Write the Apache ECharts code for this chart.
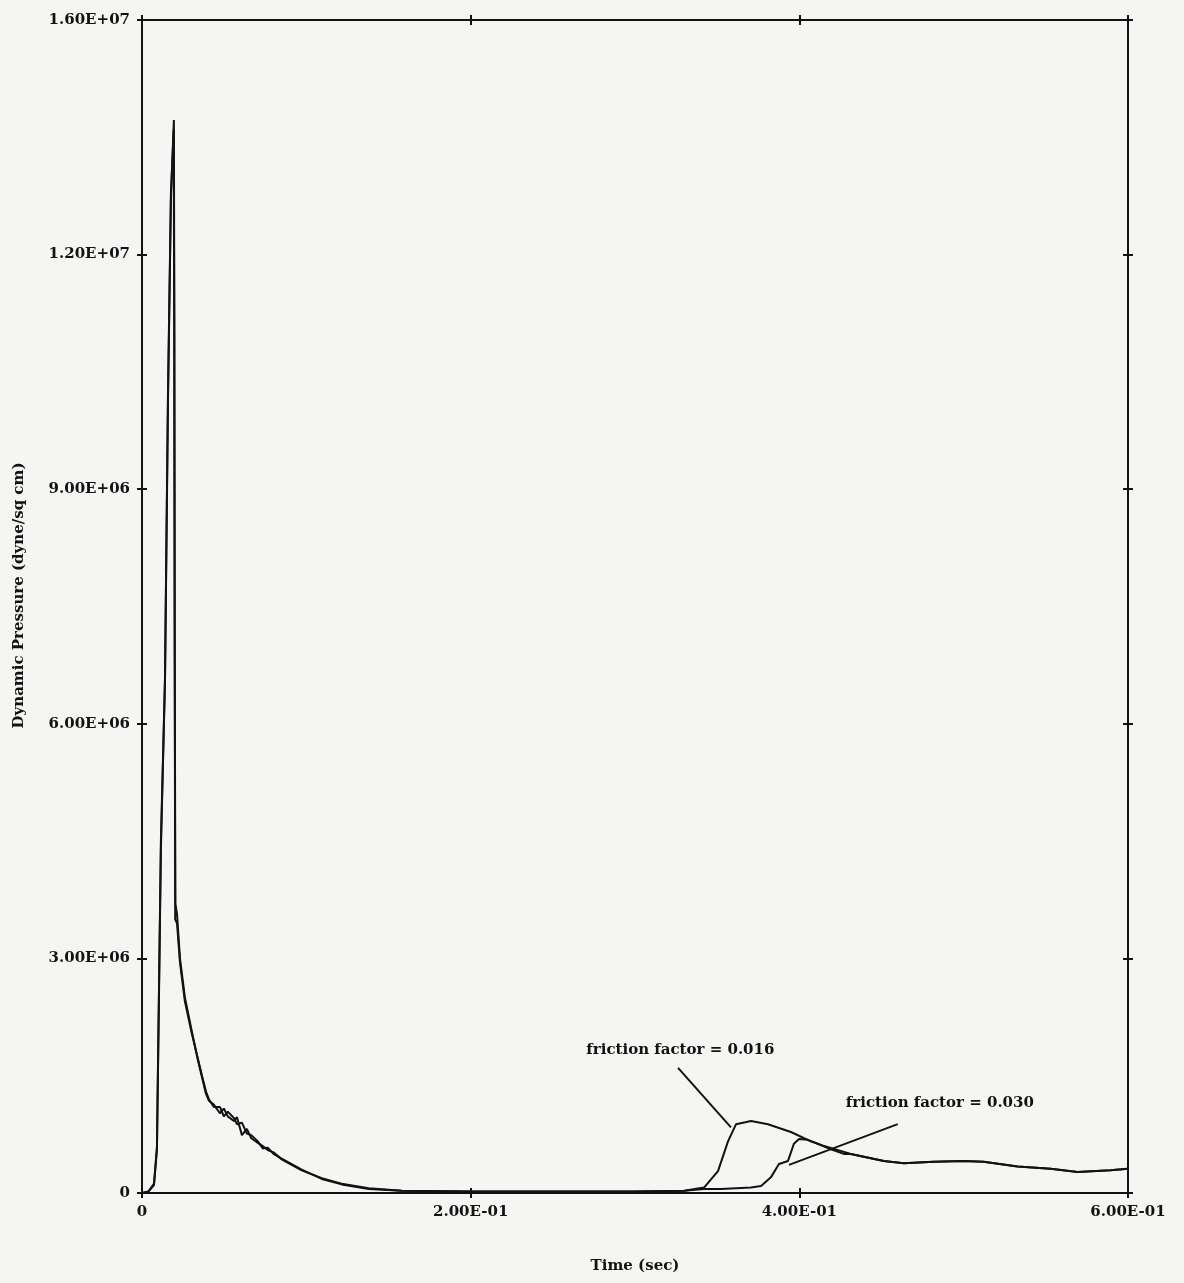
<!DOCTYPE html>
<html><head><meta charset="utf-8">
<script src="https://cdn.jsdelivr.net/npm/echarts/dist/echarts.min.js"></script>
<style>html,body{margin:0;padding:0;background:#f5f5f3;} #c{width:1184px;height:1283px;}</style>
</head><body><div id="c"></div>
<script>
const xTickLabels = ['0', '2.00E-01', '4.00E-01', '6.00E-01'];
const yTickLabels = ['0', '3.00E+06', '6.00E+06', '9.00E+06', '1.20E+07', '1.60E+07'];

const timeFF016 = [0, 0.004, 0.0073, 0.0091, 0.0115, 0.0140, 0.0158, 0.0176, 0.0194, 0.0197, 0.0199, 0.0203,
  0.0213, 0.0231, 0.0261, 0.0304, 0.034, 0.0365, 0.0389, 0.0407, 0.0437, 0.0474, 0.0498, 0.0522, 0.0559, 0.0578,
  0.0608, 0.0638, 0.0665, 0.0705, 0.0735, 0.0765, 0.080, 0.085, 0.0972, 0.1094, 0.1215, 0.138, 0.158, 0.20, 0.25,
  0.30, 0.33, 0.342, 0.3505, 0.3566, 0.3615, 0.3706, 0.3809, 0.3949, 0.407, 0.415, 0.4313, 0.4514, 0.4636, 0.4818,
  0.50, 0.5121, 0.5328, 0.5529, 0.5693, 0.5893, 0.60];
const presFF016 = [0, 0.02e6, 0.1e6, 0.55e6, 4.4e6, 6.55e6, 10.1e6, 12.7e6, 13.72e6, 11.0e6, 7.0e6, 3.7e6,
  3.57e6, 3.0e6, 2.5e6, 2.06e6, 1.7e6, 1.48e6, 1.27e6, 1.18e6, 1.13e6, 1.02e6, 1.08e6, 0.98e6, 0.92e6, 0.97e6,
  0.74e6, 0.82e6, 0.70e6, 0.64e6, 0.60e6, 0.55e6, 0.52e6, 0.43e6, 0.29e6, 0.19e6, 0.12e6, 0.06e6, 0.03e6, 0.02e6, 0.02e6,
  0.02e6, 0.03e6, 0.07e6, 0.28e6, 0.66e6, 0.88e6, 0.92e6, 0.88e6, 0.78e6, 0.66e6, 0.60e6, 0.50e6, 0.41e6, 0.38e6, 0.40e6,
  0.41e6, 0.40e6, 0.34e6, 0.31e6, 0.27e6, 0.29e6, 0.31e6];

const timeFF030 = [0, 0.004, 0.0073, 0.0091, 0.0115, 0.0140, 0.0158, 0.0176, 0.0193, 0.0196, 0.0199, 0.0202,
  0.0213, 0.0231, 0.0261, 0.0304, 0.034, 0.0365, 0.0389, 0.0407, 0.0437, 0.0474, 0.0498, 0.0522, 0.0559, 0.0578,
  0.0608, 0.0638, 0.0665, 0.0705, 0.0735, 0.0765, 0.080, 0.085, 0.0972, 0.1094, 0.1215, 0.138, 0.158, 0.20, 0.25,
  0.30, 0.33, 0.342, 0.3524, 0.3615, 0.3706, 0.3767, 0.3827, 0.3876, 0.3931, 0.3967, 0.3998, 0.4052, 0.4113, 0.4192,
  0.4271, 0.4313, 0.4514, 0.4636, 0.4818, 0.50, 0.5121, 0.5328, 0.5529, 0.5693, 0.5893, 0.60];
const presFF030 = [0, 0.02e6, 0.12e6, 0.6e6, 4.5e6, 6.6e6, 10.2e6, 12.8e6, 13.6e6, 11.2e6, 7.2e6, 3.5e6,
  3.45e6, 2.95e6, 2.45e6, 2.03e6, 1.72e6, 1.50e6, 1.30e6, 1.20e6, 1.10e6, 1.10e6, 0.98e6, 1.04e6, 0.96e6, 0.88e6,
  0.90e6, 0.76e6, 0.74e6, 0.66e6, 0.57e6, 0.58e6, 0.50e6, 0.44e6, 0.30e6, 0.18e6, 0.11e6, 0.05e6, 0.03e6, 0.02e6, 0.02e6,
  0.02e6, 0.03e6, 0.05e6, 0.05e6, 0.06e6, 0.07e6, 0.09e6, 0.20e6, 0.37e6, 0.41e6, 0.63e6, 0.69e6, 0.68e6, 0.63e6, 0.56e6,
  0.50e6, 0.50e6, 0.41e6, 0.38e6, 0.40e6, 0.41e6, 0.40e6, 0.34e6, 0.31e6, 0.27e6, 0.29e6, 0.31e6];

const annotTexts = ['friction factor = 0.016', 'friction factor = 0.030'];
const annotTextAt = [[0.2704, 1.83e6], [0.4283, 1.15e6]];
const leaderFrom = [[0.3262, 1.60e6], [0.4599, 0.88e6]];
const leaderTo = [[0.3584, 0.84e6], [0.3937, 0.36e6]];

const INK = '#121212';
const FONT = 'DejaVu Serif';
const zip = (a, b) => a.map((v, i) => [v, b[i]]);

function xAx(pos, inside, main) {
  return {
    type: 'value', gridIndex: 0, position: pos, min: 0, max: 0.6, interval: 0.2,
    axisLine: { show: true, onZero: false, lineStyle: { color: INK, width: 2 } },
    axisTick: { show: true, inside: inside, length: 5, lineStyle: { color: INK, width: 2 } },
    axisLabel: main ? {
      show: true, margin: 12, color: INK, fontFamily: FONT, fontWeight: 'bold', fontSize: 15,
      formatter: v => xTickLabels[Math.round(v / 0.2)]
    } : { show: false },
    splitLine: { show: false },
    name: main ? 'Time (sec)' : '', nameLocation: 'middle', nameGap: 66,
    nameTextStyle: { color: INK, fontFamily: FONT, fontWeight: 'bold', fontSize: 15 }
  };
}
function yAx(pos, inside, main) {
  return {
    type: 'value', gridIndex: 0, position: pos, min: 0, max: 15e6, interval: 3e6,
    axisLine: { show: true, onZero: false, lineStyle: { color: INK, width: 2 } },
    axisTick: { show: true, inside: inside, length: 5, lineStyle: { color: INK, width: 2 } },
    axisLabel: main ? {
      show: true, margin: 12, color: INK, fontFamily: FONT, fontWeight: 'bold', fontSize: 15,
      formatter: v => yTickLabels[Math.round(v / 3e6)]
    } : { show: false },
    splitLine: { show: false },
    name: main ? 'Dynamic Pressure (dyne/sq cm)' : '', nameLocation: 'middle', nameGap: 115,
    nameTextStyle: { color: INK, fontFamily: FONT, fontWeight: 'bold', fontSize: 15, padding: [0, 0, 0, 22] }
  };
}

const chart = echarts.init(document.getElementById('c'), null, { renderer: 'canvas' });
const option = {
  backgroundColor: '#f5f5f3',
  animation: false,
  grid: { left: 142, right: 56, top: 20, bottom: 90, containLabel: false },
  xAxis: [xAx('bottom', false, true), xAx('bottom', true, false), xAx('top', false, false), xAx('top', true, false)],
  yAxis: [yAx('left', false, true), yAx('left', true, false), yAx('right', false, false), yAx('right', true, false)],
  series: [
    { name: 'friction factor = 0.016', type: 'line', xAxisIndex: 0, yAxisIndex: 0, showSymbol: false,
      data: zip(timeFF016, presFF016), lineStyle: { color: INK, width: 2 }, z: 3 },
    { name: 'friction factor = 0.030', type: 'line', xAxisIndex: 0, yAxisIndex: 0, showSymbol: false,
      data: zip(timeFF030, presFF030), lineStyle: { color: INK, width: 2 }, z: 3 }
  ]
};
chart.setOption(option);

const toPx = p => chart.convertToPixel({ xAxisIndex: 0, yAxisIndex: 0 }, p);
const graphics = [];
annotTexts.forEach((t, i) => {
  const tp = toPx(annotTextAt[i]);
  graphics.push({ type: 'text', x: tp[0], y: tp[1], z: 10,
    style: { text: t, fill: INK, font: 'bold 15px "DejaVu Serif"', textAlign: 'left', textVerticalAlign: 'middle' } });
  const a = toPx(leaderFrom[i]), b = toPx(leaderTo[i]);
  graphics.push({ type: 'line', z: 10, shape: { x1: a[0], y1: a[1], x2: b[0], y2: b[1] },
    style: { stroke: INK, lineWidth: 2 } });
});
chart.setOption({ graphic: graphics });
</script>
</body></html>
